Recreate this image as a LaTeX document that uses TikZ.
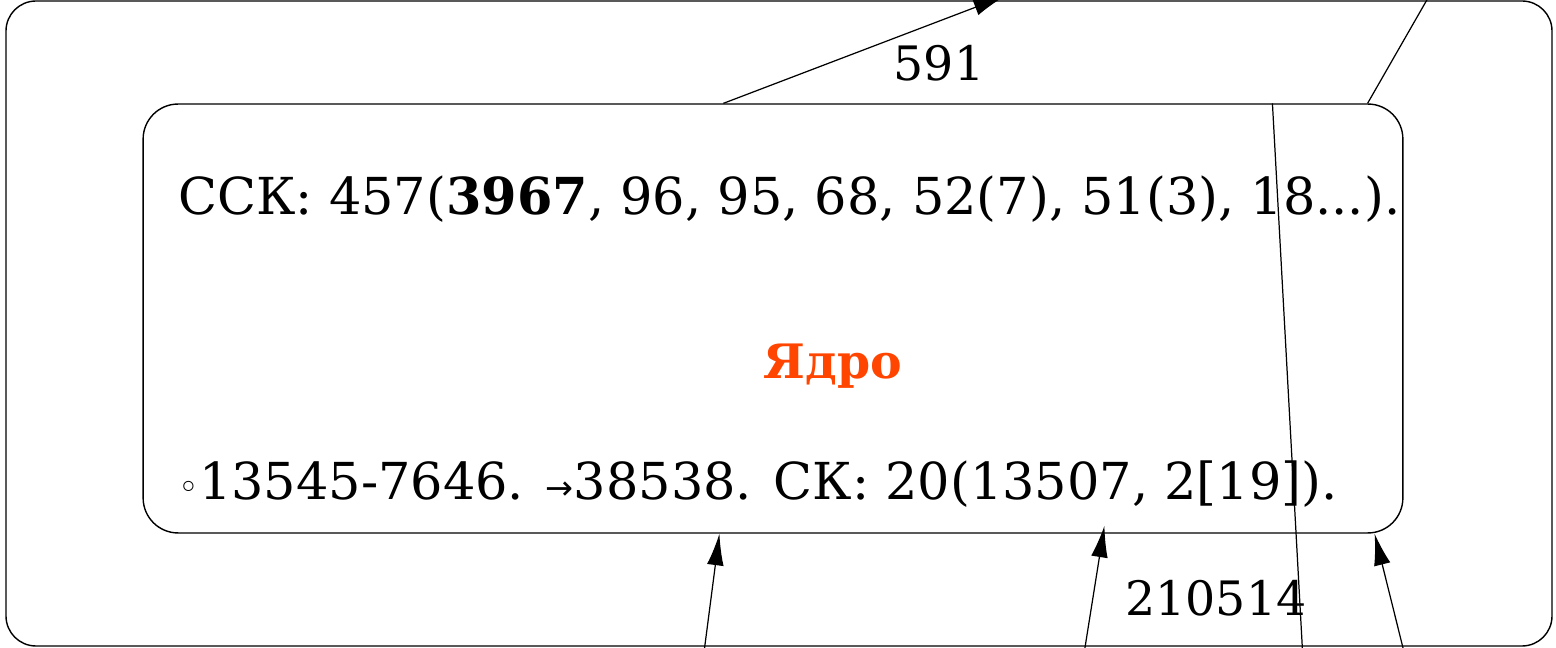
\documentclass[tikz,border=0pt]{standalone}
\usepackage{fontspec}
\setmainfont{DejaVu Serif}
\newfontfamily\symbfont{DejaVu Sans}
\usepackage{xcolor}
\usetikzlibrary{calc, arrows.meta}
\definecolor{orangered}{HTML}{FF4500}

\begin{document}
\begin{tikzpicture}
			[x = 0.02cm, y = -0.02cm,
			 cluster/.style = {draw, line width = 0.8pt, rounded corners = 0.6cm},
			 corebox/.style = {draw, line width = 0.8pt, rounded corners = 0.7cm, minimum width = 25.2cm, minimum height = 8.58cm},
			 textline/.style = {font = \fontsize{29}{29}\selectfont, inner sep = 0pt, anchor = base west},
			 title/.style = {font = \fontsize{27}{27}\selectfont\bfseries, text = orangered, inner sep = 0pt},
			 lbl/.style = {font = \fontsize{27}{27}\selectfont, inner sep = 0pt},
			 edge/.style = {line width = 0.7pt},
			 arrow/.style = {edge, -{Latex[length = 18pt, width = 9.5pt]}}]
			\useasboundingbox (0,0) rectangle (1556,648);
			\clip (0,0) rectangle (1556,648);
			\draw[cluster] (6,1) rectangle (1552,646);
			\node[corebox] (core) at (773,318.5) {};
			\node[textline] (ssk) at (178,215) {ССК: 457(\textbf{3967}, 96, 95, 68, 52(7), 51(3), 18...).};
			\node[title] (name) at (833,366) {Ядро};
			\node[textline] (sk) at (178,500) {{\symbfont\fontsize{20}{20}\selectfont ◦}13545-7646. {\symbfont\fontsize{19}{19}\selectfont →}38538. СК: 20(13507, 2[19]).};
			\coordinate (up591) at (1005,-4);
			\coordinate (upright) at (1428,-2);
			\coordinate (down) at (1303,660);
			\coordinate (inleft) at (703,660);
			\coordinate (inmid) at (1083,660);
			\coordinate (inright) at (1406,660);
			\begin{scope}[arrow]
				\draw ($(core.north west) + (581,0)$) -- (up591);
				\draw (inleft) -- ($(core.south west) + (577,0)$);
				\draw (inmid) -- ($(core.south west) + (962,-8)$);
				\draw (inright) -- ($(core.south east) + (-29,0)$);
			\end{scope}
			\draw[edge] ($(core.north east) + (-36,0)$) -- (upright);
			\draw[edge] ($(core.north west) + (1130,0)$) -- (down);
			\node[lbl] (w591) at (939,63) {591};
			\node[lbl] (w210514) at (1216,598) {210514};
		\end{tikzpicture}
\end{document}
